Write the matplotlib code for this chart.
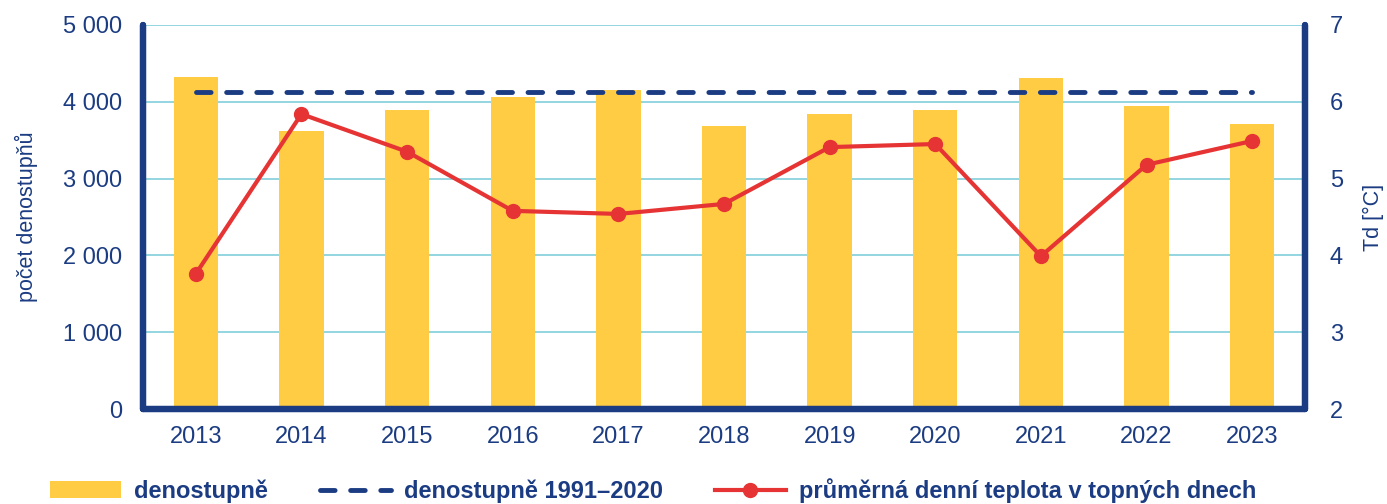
import numpy as np
import matplotlib.pyplot as plt
from matplotlib.ticker import FuncFormatter

plt.rcParams['font.family'] = ['Liberation Sans', 'DejaVu Sans']

roky = ['2013', '2014', '2015', '2016', '2017', '2018', '2019', '2020', '2021', '2022', '2023']
denostupne = [4320, 3620, 3895, 4060, 4150, 3685, 3840, 3895, 4310, 3945, 3710]
normal_1991_2020 = 4125
teplota = [3.76, 5.84, 5.35, 4.58, 4.54, 4.67, 5.41, 5.45, 3.99, 5.18, 5.49]

modra = '#1b3c82'
zluta = '#ffcc44'
cervena = '#e63434'
mrizka = '#80cedc'

fig = plt.figure(figsize=(13.87, 5.04), dpi=100)
ax = fig.add_axes([143 / 1387, 1 - 409 / 504, (1305 - 143) / 1387, (409 - 25) / 504])
x = np.arange(len(roky))

bary = ax.bar(x, denostupne, width=0.42, color=zluta, zorder=2, label='denostupně')
norma, = ax.plot([x[0], x[-1]], [normal_1991_2020] * 2, color=modra, lw=3.5, ls=(0, (3, 3.2)),
                 dash_capstyle='round', zorder=4, label='denostupně 1991–2020')
ax.set_xlim(-0.5, len(roky) - 0.5)
ax.set_ylim(0, 5000)
ax.set_yticks(range(0, 5001, 1000))
ax.yaxis.set_major_formatter(FuncFormatter(lambda v, p: f'{int(v):,}'.replace(',', ' ')))
ax.set_xticks(x)
ax.set_xticklabels(roky)
ax.grid(axis='y', color=mrizka, lw=1.2, zorder=0)
ax.set_axisbelow(True)

ax2 = ax.twinx()
cara, = ax2.plot(x, teplota, color=cervena, lw=3, marker='o', ms=10, zorder=5,
                 label='průměrná denní teplota v topných dnech')
ax2.set_ylim(2, 7)
ax2.set_yticks(range(2, 8))

for a in (ax, ax2):
    for s in ('left', 'right', 'bottom'):
        a.spines[s].set_color(modra)
        a.spines[s].set_linewidth(4.5)
        a.spines[s].set_capstyle('round')
    a.spines['top'].set_visible(False)
    a.tick_params(length=0, labelsize=17, colors=modra)
ax.tick_params(axis='y', pad=15)
ax2.tick_params(axis='y', pad=18)
ax.tick_params(axis='x', pad=12)

ax.set_ylabel('počet denostupňů', color=modra, fontsize=15.5, labelpad=18)
ax2.set_ylabel('Td [°C]', color=modra, fontsize=15.5, labelpad=14)

leg = fig.legend([bary, norma, cara],
                 ['denostupně', 'denostupně 1991–2020', 'průměrná denní teplota v topných dnech'],
                 loc='lower left', bbox_to_anchor=(0.021, -0.04), ncol=3,
                 frameon=False, handlelength=3.0, handleheight=0.7, handletextpad=0.55,
                 columnspacing=2.2, prop={'weight': 'bold', 'size': 17})
for t in leg.get_texts():
    t.set_color(modra)

fig.savefig('out.png', dpi=100)
